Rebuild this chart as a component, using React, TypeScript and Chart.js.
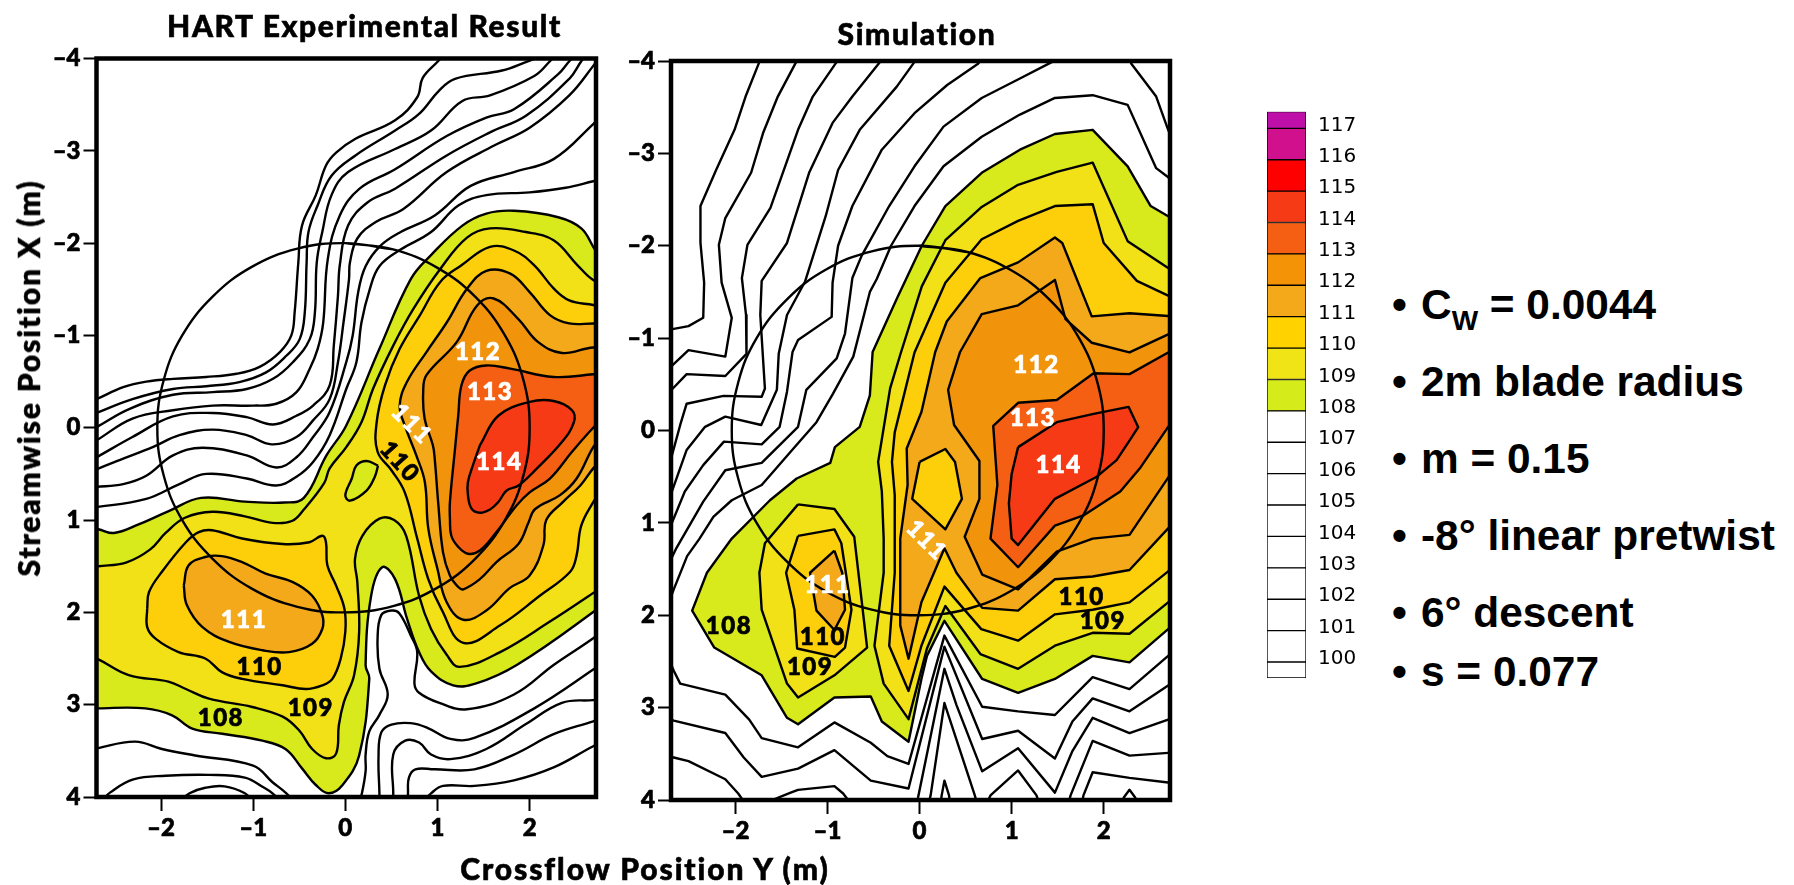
import React, { useEffect, useRef } from "react";
import { Chart, registerables } from "chart.js";
Chart.register(...registerables);

type P = [number, number];

// ---------- HART experimental panel: iso-level lines (crossflow Y, streamwise X, metres)
const expIso100: P[] = [[1.08,-4.05],[1.006,-3.97],[.84,-3.79],[.78,-3.58],[.54,-3.33],[.11,-3.13],[-.10,-2.98],[-.21,-2.84],[-.32,-2.52],[-.47,-2.19],[-.51,-1.79],[-.55,-1.25],[-.586,-1.0],[-.71,-.82],[-.93,-.66],[-1.18,-.585],[-1.51,-.55],[-1.87,-.53],[-2.16,-.50],[-2.41,-.44],[-2.70,-.31],[-2.85,-.25]];
const expIso101: P[] = [[2.22,-4.06],[1.98,-3.97],[1.70,-3.87],[1.19,-3.78],[1.015,-3.65],[.80,-3.40],[.54,-3.22],[.11,-2.95],[-.15,-2.73],[-.30,-2.41],[-.40,-2.12],[-.42,-1.79],[-.44,-1.25],[-.495,-.96],[-.64,-.78],[-.86,-.60],[-1.15,-.495],[-1.51,-.45],[-1.87,-.42],[-2.31,-.31],[-2.70,-.16],[-2.85,-.10]];
const expIso102: P[] = [[2.30,-4.06],[2.22,-3.97],[2.05,-3.81],[1.57,-3.60],[1.27,-3.54],[.93,-3.22],[.54,-3.02],[.03,-2.77],[-.15,-2.52],[-.25,-2.12],[-.31,-1.79],[-.33,-1.25],[-.386,-.96],[-.57,-.71],[-.785,-.53],[-1.07,-.42],[-1.44,-.386],[-1.87,-.357],[-2.34,-.205],[-2.70,-.007],[-2.85,.07]];
const expIso103: P[] = [[2.52,-4.06],[2.43,-3.97],[2.31,-3.83],[1.83,-3.45],[1.53,-3.36],[1.10,-3.16],[.54,-2.80],[.155,-2.59],[-.06,-2.30],[-.19,-1.83],[-.24,-1.14],[-.30,-.855],[-.386,-.64],[-.53,-.386],[-.75,-.26],[-1.0,-.24],[-1.44,-.24],[-1.87,-.19],[-2.31,-.10],[-2.70,.137],[-2.85,.22]];
const expIso104: P[] = [[2.63,-4.06],[2.56,-3.97],[2.43,-3.78],[1.96,-3.38],[1.57,-3.20],[1.10,-2.95],[.54,-2.59],[.24,-2.44],[.03,-2.19],[-.06,-1.76],[-.08,-1.43],[-.125,-.89],[-.17,-.46],[-.35,-.24],[-.53,-.13],[-.785,-.036],[-1.07,-.115],[-1.44,-.16],[-1.87,-.123],[-2.31,.10],[-2.70,.32],[-2.85,.40]];
const expIso105: P[] = [[2.82,-4.1],[2.69,-3.92],[2.43,-3.6],[2.0,-3.25],[1.62,-3.06],[1.10,-2.77],[.63,-2.37],[.33,-2.23],[.13,-2.05],[.05,-1.79],[.04,-1.61],[-.02,-1.14],[-.08,-.71],[-.17,-.31],[-.35,-.08],[-.53,.10],[-.80,.18],[-1.07,.08],[-1.44,.02],[-1.80,.08],[-2.09,.21],[-2.45,.35],[-2.70,.45],[-2.85,.52]];
const expIso106: P[] = [[2.82,-3.42],[2.69,-3.29],[2.26,-2.91],[1.83,-2.77],[1.36,-2.62],[.97,-2.30],[.6,-2.12],[.38,-1.97],[.22,-1.75],[.14,-1.47],[.08,-1.0],[.01,-.71],[-.17,-.17],[-.35,.10],[-.53,.32],[-.75,.43],[-1.07,.30],[-1.55,.217],[-1.87,.30],[-2.16,.52],[-2.41,.61],[-2.70,.64],[-2.85,.65]];
const expIso107: P[] = [[2.82,-2.70],[2.69,-2.67],[2.39,-2.60],[2.0,-2.55],[1.53,-2.52],[1.23,-2.41],[.93,-2.12],[.6,-1.93],[.37,-1.75],[.265,-1.5],[.175,-1.14],[.12,-.71],[.01,-.42],[-.17,.08],[-.35,.37],[-.53,.53],[-.75,.625],[-1.07,.55],[-1.51,.50],[-1.8,.61],[-2.16,.77],[-2.70,.86],[-2.85,.87]];
const expLowA: P[] = [[-2.85,3.52],[-2.68,3.47],[-2.28,3.40],[-1.99,3.48],[-1.63,3.55],[-1.0,3.66],[-.79,3.84],[-.64,3.96],[-.55,4.06]];
const expLowB: P[] = [[-2.65,4.05],[-2.55,3.95],[-2.30,3.81],[-1.95,3.77],[-1.48,3.76],[-1.09,3.79],[-.88,3.90],[-.79,3.96],[-.7,4.05]];
const expLowC: P[] = [[-1.8,4.05],[-1.69,3.96],[-1.52,3.90],[-1.31,3.885],[-1.09,3.96],[-1.0,4.05]];
const expRightA: P[] = [[2.85,2.15],[2.69,2.28],[2.26,2.57],[1.83,2.89],[1.32,3.05],[1.02,2.98],[.80,2.87],[.75,2.77],[.78,2.43],[.71,2.25],[.585,2.01],[.50,1.98],[.39,2.03],[.35,2.28],[.37,2.61],[.46,2.89],[.37,3.11],[.26,3.29],[.22,3.54],[.22,3.72],[.18,3.96],[.15,4.05]];
const expRightB: P[] = [[2.85,2.5],[2.69,2.62],[2.05,3.04],[1.40,3.36],[1.14,3.37],[.89,3.25],[.71,3.20],[.50,3.215],[.39,3.30],[.36,3.57],[.37,3.96],[.37,4.06]];
const expRightC: P[] = [[2.85,2.93],[2.69,2.95],[2.35,2.98],[1.96,3.21],[1.53,3.48],[1.14,3.59],[.93,3.54],[.80,3.41],[.65,3.39],[.52,3.54],[.52,3.96],[.52,4.06]];
const expRightD: P[] = [[2.85,3.12],[2.69,3.18],[2.26,3.32],[1.83,3.54],[1.40,3.70],[.97,3.70],[.76,3.70],[.69,3.79],[.68,3.96],[.68,4.06]];
const expRightE: P[] = [[2.85,3.38],[2.69,3.45],[2.26,3.68],[1.83,3.82],[1.40,3.88],[1.06,3.88],[.93,3.96],[.85,4.05]];

const exp108: P[] = [[2.85,-1.7],[2.69,-1.96],[2.56,-2.16],[2.31,-2.28],[1.83,-2.35],[1.53,-2.32],[1.27,-2.19],[.93,-1.87],[.71,-1.61],[.37,-.855],[.01,-.025],[-.205,.30],[-.45,.76],[-.66,.81],[-1.09,.80],[-1.565,.76],[-1.91,.90],[-2.25,1.05],[-2.51,1.14],[-2.68,1.10],[-2.85,1.08],[-2.95,2.0],[-2.85,3.05],[-2.68,3.04],[-2.17,3.04],[-1.88,3.115],[-1.66,3.26],[-1.335,3.315],[-.90,3.39],[-.65,3.48],[-.47,3.69],[-.32,3.87],[-.18,3.96],[-.03,3.87],[.15,3.55],[.26,2.72],[.22,2.57],[.28,1.82],[.40,1.51],[.54,1.64],[.67,2.07],[.80,2.43],[.93,2.64],[1.17,2.79],[1.42,2.77],[1.86,2.57],[2.69,1.996],[2.85,1.85],[2.95,0]];
const exp109: P[] = [[2.85,-1.55],[2.69,-1.60],[2.52,-1.76],[2.26,-2.03],[1.96,-2.12],[1.57,-2.16],[1.32,-2.06],[1.03,-1.72],[.74,-1.29],[.52,-.89],[.30,-.42],[.175,-.06],[.01,.21],[-.17,.44],[-.23,.60],[-.45,.885],[-.58,1.01],[-.79,1.03],[-1.09,.96],[-1.44,.91],[-1.74,.975],[-1.95,1.14],[-2.12,1.32],[-2.38,1.46],[-2.68,1.50],[-2.85,1.52],[-2.95,2.0],[-2.85,2.45],[-2.68,2.51],[-2.35,2.68],[-1.92,2.75],[-1.73,2.83],[-1.48,2.935],[-1.01,3.025],[-.68,3.13],[-.50,3.28],[-.36,3.48],[-.21,3.58],[-.10,3.53],[-.07,3.22],[-.015,2.97],[.095,2.68],[.15,2.21],[.13,1.67],[.105,1.42],[.185,1.17],[.37,.985],[.53,1.0],[.66,1.17],[.80,1.82],[.93,2.18],[1.10,2.46],[1.24,2.59],[1.68,2.43],[2.22,2.10],[2.69,1.79],[2.85,1.68],[2.95,0]];
const exp108Island: P[] = [[.355,.41],[.23,.36],[.12,.41],[.07,.55],[0,.73],[.05,.79],[.23,.68],[.32,.53],[.355,.41]];
const exp110: P[] = [[2.85,-1.3],[2.69,-1.33],[2.43,-1.38],[2.26,-1.51],[2.05,-1.76],[1.83,-1.92],[1.57,-1.96],[1.26,-1.76],[1.03,-1.58],[.81,-1.22],[.59,-.855],[.43,-.46],[.34,-.06],[.35,.26],[.50,.46],[.645,.70],[.78,1.20],[.90,1.64],[1.04,1.96],[1.28,2.33],[1.68,2.14],[2.11,1.82],[2.44,1.56],[2.51,1.38],[2.56,1.06],[2.69,.805],[2.85,.55],[2.95,-.5]];
const exp110Low: P[] = [[-2.15,1.96],[-2.13,1.78],[-1.99,1.56],[-1.73,1.24],[-1.59,1.13],[-1.445,1.11],[-1.12,1.20],[-.68,1.26],[-.39,1.24],[-.25,1.17],[-.21,1.24],[-.195,1.49],[-.10,1.71],[-.01,1.96],[0,2.21],[-.05,2.50],[-.14,2.72],[-.25,2.79],[-.43,2.83],[-.68,2.79],[-1.12,2.72],[-1.335,2.65],[-1.52,2.50],[-1.81,2.43],[-2.06,2.285],[-2.15,2.16],[-2.15,1.96]];
const exp111: P[] = [[2.85,-1.13],[2.69,-1.13],[2.43,-1.13],[2.22,-1.22],[2.0,-1.47],[1.79,-1.67],[1.53,-1.70],[1.32,-1.505],[1.10,-1.14],[.88,-.82],[.665,-.49],[.59,-.24],[.645,-.025],[.77,.30],[.863,.59],[.90,1.09],[1.0,1.53],[1.10,1.89],[1.28,2.08],[1.53,1.98],[1.78,1.74],[2.0,1.60],[2.15,1.27],[2.18,1.0],[2.36,.805],[2.55,.625],[2.69,.44],[2.85,.27],[2.95,-.5]];
const exp111Low: P[] = [[-1.753,1.71],[-1.70,1.49],[-1.52,1.40],[-1.34,1.39],[-1.12,1.455],[-.865,1.58],[-.575,1.67],[-.36,1.82],[-.25,2.03],[-.25,2.18],[-.36,2.34],[-.61,2.43],[-.90,2.41],[-1.26,2.32],[-1.55,2.16],[-1.72,1.92],[-1.753,1.71]];
const exp112: P[] = [[2.85,-.84],[2.69,-.87],[2.35,-.81],[2.09,-.93],[1.875,-1.18],[1.61,-1.40],[1.43,-1.325],[1.21,-.93],[.88,-.57],[.845,-.39],[.86,-.10],[.95,.19],[.97,.336],[1.01,.84],[1.06,1.35],[1.135,1.60],[1.225,1.725],[1.28,1.75],[1.46,1.64],[1.64,1.455],[1.88,1.256],[1.99,1.02],[2.06,.88],[2.33,.73],[2.51,.55],[2.69,.21],[2.85,0],[2.95,-.4]];
const exp113: P[] = [[2.85,-.6],[2.69,-.58],[2.26,-.55],[1.79,-.64],[1.53,-.675],[1.35,-.62],[1.26,-.46],[1.225,-.13],[1.19,.23],[1.135,.805],[1.135,.985],[1.15,1.17],[1.225,1.29],[1.33,1.365],[1.46,1.33],[1.64,1.13],[1.86,.84],[2.0,.70],[2.22,.55],[2.46,.26],[2.69,0],[2.85,-.15],[2.95,-.4]];
const exp114: P[] = [[1.46,.19],[1.66,-.13],[2.0,-.28],[2.26,-.29],[2.46,-.19],[2.48,-.06],[2.35,.155],[2.04,.48],[1.88,.625],[1.75,.68],[1.66,.805],[1.57,.885],[1.46,.92],[1.37,.877],[1.33,.73],[1.33,.59],[1.39,.39],[1.46,.19]];

// ---------- Simulation panel: iso-level lines
const simIso100: P[] = [[-1.70,-4.12],[-1.74,-3.99],[-1.89,-3.615],[-2.01,-3.255],[-2.21,-2.82],[-2.38,-2.43],[-2.38,-2.03],[-2.34,-1.60],[-2.35,-1.22],[-2.51,-1.13],[-2.67,-1.10],[-2.85,-1.07]];
const simIso101: P[] = [[-1.30,-4.12],[-1.34,-3.99],[-1.54,-3.615],[-1.70,-3.22],[-1.83,-2.79],[-2.11,-2.30],[-2.18,-2.01],[-2.15,-1.60],[-2.04,-1.22],[-2.11,-.80],[-2.51,-.87],[-2.68,-.71],[-2.85,-.55]];
const simIso102: P[] = [[-.84,-4.12],[-.90,-3.99],[-1.16,-3.615],[-1.32,-3.255],[-1.62,-2.41],[-1.87,-2.01],[-1.93,-1.65],[-1.885,-1.25],[-1.88,-.83],[-2.11,-.59],[-2.53,-.61],[-2.68,-.455],[-2.85,-.3]];
const simIso103: P[] = [[-.36,-4.12],[-.43,-3.99],[-.73,-3.615],[-.945,-3.33],[-1.20,-2.79],[-1.44,-2.03],[-1.715,-1.62],[-1.73,-1.25],[-1.68,-.455],[-1.715,-.365],[-2.13,-.375],[-2.53,-.29],[-2.60,-.06],[-2.69,.27],[-2.85,.7]];
const simIso104: P[] = [[.05,-4.12],[-.055,-3.99],[-.25,-3.72],[-.65,-3.255],[-.885,-2.82],[-1.02,-2.32],[-1.245,-1.61],[-1.44,-1.25],[-1.53,-.83],[-1.55,-.44],[-1.72,-.06],[-2.11,-.15],[-2.33,-.04],[-2.53,.21],[-2.69,.66],[-2.85,1.1]];
const simIso105: P[] = [[.75,-4.12],[.635,-3.97],[.30,-3.74],[-.055,-3.435],[-.41,-3.04],[-.73,-2.43],[-.885,-2.0],[-.945,-1.60],[-.955,-1.23],[-1.32,-.98],[-1.38,-.85],[-1.44,-.42],[-1.52,-.04],[-1.715,.15],[-2.125,.12],[-2.35,.375],[-2.55,.66],[-2.69,1.0],[-2.85,1.4]];
const simIso106: P[] = [[1.68,-4.12],[1.43,-3.985],[1.09,-3.81],[.675,-3.60],[.26,-3.29],[-.055,-2.86],[-.33,-2.43],[-.63,-1.89],[-.73,-1.65],[-.81,-1.05],[-.90,-.78],[-1.23,-.44],[-1.32,-.04],[-1.715,.35],[-2.11,.43],[-2.35,.77],[-2.64,1.27],[-2.85,1.7]];
const simIso106b: P[] = [[2.25,-4.12],[2.30,-3.97],[2.57,-3.615],[2.70,-3.255],[2.85,-2.9]];
const simIso107: P[] = [[2.85,-2.6],[2.69,-2.75],[2.57,-2.84],[2.26,-3.525],[1.88,-3.63],[1.47,-3.60],[1.09,-3.42],[.675,-3.18],[.26,-2.86],[-.055,-2.43],[-.31,-2.0],[-.465,-1.64],[-.54,-1.50],[-.72,-.80],[-.94,-.40],[-1.12,-.09],[-1.37,.195],[-1.715,.59],[-2.04,.755],[-2.24,.935],[-2.39,1.17],[-2.525,1.36],[-2.67,1.72],[-2.85,2.2]];
const simLowA: P[] = [[-2.8,2.3],[-2.67,2.60],[-2.60,2.74],[-2.11,2.86],[-1.85,3.13],[-1.715,3.33],[-1.32,3.43],[-.925,3.16],[-.53,3.38],[-.35,3.525],[-.12,3.61],[.27,2.22],[.68,2.99],[1.07,3.04],[1.47,3.08],[1.88,2.67],[2.28,2.80],[2.70,2.44],[2.85,2.3]];
const simLowB: P[] = [[-2.85,3.08],[-2.67,3.14],[-2.11,3.275],[-1.91,3.54],[-1.715,3.75],[-1.32,3.66],[-.925,3.46],[-.53,3.79],[-.12,3.875],[.27,2.34],[.68,3.34],[1.07,3.25],[1.47,3.55],[1.66,3.15],[1.88,2.90],[2.28,3.04],[2.70,2.76],[2.85,2.65]];
const simLowC: P[] = [[-.05,4.1],[-.016,3.97],[.27,2.58],[.40,2.97],[.68,3.69],[1.07,3.44],[1.47,3.92],[1.66,3.47],[1.88,3.11],[2.28,3.275],[2.70,3.13],[2.85,3.1]];
const simLowD: P[] = [[.08,4.1],[.12,3.95],[.27,2.95],[.60,3.95],[.64,4.1]];
const simLowE: P[] = [[.7,4.1],[.77,3.95],[1.07,3.68],[1.27,3.95],[1.32,4.1]];
const simLowF: P[] = [[1.6,4.1],[1.64,3.95],[1.88,3.36],[2.28,3.52],[2.70,3.49],[2.85,3.48]];
const simLowG: P[] = [[1.75,4.1],[1.78,3.95],[1.88,3.70],[2.28,3.76],[2.70,3.81],[2.85,3.83]];
const simLowH: P[] = [[-2.85,3.5],[-2.67,3.54],[-2.51,3.58],[-2.11,3.775],[-1.97,3.93],[-1.85,4.1]];
const simLowI: P[] = [[-1.6,4.0],[-1.40,3.92],[-1.32,3.89],[-.925,3.85],[-.83,3.93],[-.7,4.1]];
const simLowJ: P[] = [[.22,4.1],[.24,3.95],[.27,3.79],[.32,3.95],[.34,4.1]];
const simLowK: P[] = [[2.18,4.05],[2.22,3.97],[2.28,3.89],[2.34,3.97],[2.38,4.05]];

const sim108: P[] = [[2.85,-2.25],[2.70,-2.32],[2.51,-2.43],[2.26,-2.86],[1.88,-3.255],[1.47,-3.21],[1.09,-3.04],[.675,-2.79],[.28,-2.43],[.024,-2.0],[-.25,-1.42],[-.51,-.85],[-.54,-.38],[-.65,-.04],[-.92,.18],[-.97,.35],[-1.335,.52],[-1.625,.755],[-2.04,1.17],[-2.31,1.54],[-2.47,1.95],[-2.23,2.35],[-1.715,2.65],[-1.44,3.11],[-1.32,3.18],[-.925,2.89],[-.53,2.88],[-.41,3.15],[-.12,3.37],[.02,2.69],[.08,2.44],[.27,2.06],[.68,2.69],[1.07,2.84],[1.47,2.69],[1.88,2.44],[2.28,2.51],[2.70,2.15],[2.85,2.0],[2.95,0]];
const sim109: P[] = [[2.85,-1.65],[2.70,-1.76],[2.26,-2.05],[1.88,-2.90],[1.49,-2.80],[1.07,-2.66],[.675,-2.42],[.28,-2.06],[.024,-1.56],[-.21,-.82],[-.32,-.455],[-.45,.34],[-.41,.66],[-.39,1.17],[-.39,1.54],[-.49,2.33],[-.39,2.74],[-.12,3.125],[.08,2.36],[.28,1.9],[.66,2.42],[1.07,2.58],[1.47,2.33],[1.88,2.19],[2.28,2.20],[2.70,1.86],[2.85,1.7],[2.95,0]];
const sim109Low: P[] = [[-1.32,.80],[-.925,.85],[-.71,1.15],[-.57,2.35],[-.925,2.65],[-1.32,2.89],[-1.44,2.74],[-1.715,1.94],[-1.74,1.54],[-1.68,1.22],[-1.32,.80]];
const sim110: P[] = [[2.85,-1.38],[2.70,-1.46],[2.36,-1.62],[2.0,-2.03],[1.88,-2.45],[1.47,-2.43],[1.07,-2.27],[.675,-2.07],[.28,-1.60],[-.055,-.845],[-.27,.02],[-.30,.34],[-.27,.70],[-.27,1.54],[-.33,2.33],[-.12,2.82],[.02,2.33],[.27,1.69],[.67,2.15],[1.07,2.275],[1.47,1.99],[1.88,1.94],[2.28,1.86],[2.70,1.525],[2.85,1.35],[2.95,0]];
const sim110Low: P[] = [[-1.32,1.14],[-.925,1.07],[-.85,1.22],[-.74,1.94],[-.81,2.35],[-.92,2.45],[-1.33,2.36],[-1.36,1.94],[-1.45,1.54],[-1.32,1.14]];
const sim111: P[] = [[2.85,-1.24],[2.70,-1.24],[2.28,-1.27],[1.87,-1.235],[1.55,-2.03],[1.47,-2.09],[1.07,-1.82],[.66,-1.65],[.295,-1.18],[.17,-.85],[.02,-.20],[-.14,.195],[-.13,.59],[-.21,1.17],[-.21,2.11],[-.12,2.47],[.02,1.86],[.27,1.275],[.40,1.54],[.68,1.92],[1.07,1.95],[1.47,1.61],[1.88,1.58],[2.28,1.51],[2.70,1.06],[2.85,.9],[2.95,0]];
const sim110Hole: P[] = [[0,.34],[.28,.20],[.385,.34],[.46,.74],[.28,1.07],[-.08,.74],[0,.34]];
const sim111Low: P[] = [[-.925,1.30],[-.84,1.54],[-.81,1.94],[-.925,2.16],[-1.12,1.95],[-1.19,1.54],[-.925,1.30]];
const sim112: P[] = [[2.85,-1.1],[2.70,-1.04],[2.28,-.845],[1.87,-.95],[1.585,-1.205],[1.47,-1.63],[1.07,-1.355],[.675,-1.26],[.44,-.85],[.31,-.44],[.375,-.06],[.65,.33],[.65,.74],[.49,1.15],[.68,1.56],[1.07,1.72],[1.49,1.31],[1.88,1.17],[2.28,1.13],[2.70,.51],[2.85,.3],[2.95,0]];
const sim113: P[] = [[2.85,-.95],[2.70,-.845],[2.28,-.61],[1.89,-.62],[1.49,-.33],[1.07,-.30],[.80,-.05],[.845,.59],[.77,1.17],[1.07,1.48],[1.47,1.03],[1.78,.92],[2.18,.66],[2.4,.4],[2.70,-.04],[2.85,-.2],[2.95,-.5]];
const sim114: P[] = [[1.07,.18],[1.49,-.09],[1.89,-.18],[2.27,-.256],[2.375,-.036],[2.28,.11],[2.14,.32],[1.925,.50],[1.47,.74],[1.07,1.24],[1.0,1.17],[.97,.79],[1.0,.47],[1.07,.18]];

// Rotor disc outline (about 2 m radius), read at 15 degree steps
const rotorDisc: P[] = [[0,-2],[.518,-1.932],[1,-1.732],[1.414,-1.414],[1.732,-1],[1.932,-.518],[2,0],[1.932,.518],[1.732,1],[1.414,1.414],[1,1.732],[.518,1.932],[0,2],[-.52,1.94],[-1.02,1.74],[-1.44,1.42],[-1.77,1],[-1.97,.52],[-2.04,0],[-1.97,-.52],[-1.77,-1],[-1.44,-1.42],[-1.02,-1.74],[-.52,-1.94],[0,-2],[.518,-1.932]];

// ---------- Colour key
const keyLevels = [100,101,102,103,104,105,106,107,108,109,110,111,112,113,114,115,116,117];
const keyColors = ["#ffffff","#ffffff","#ffffff","#ffffff","#ffffff","#ffffff","#ffffff","#ffffff","#d6ec1a","#f1e416","#ffd200","#f3a91a","#f49306","#f55f14","#f63a15","#ff0000","#d0108c","#be10a8"];
const keyLowEdge = 99.49;
const keyHighEdge = 117.53;

const levelColor: Record<number, string> = { 108: "#d8ea1c", 109: "#f2e116", 110: "#fccf0a", 111: "#f3a91a", 112: "#f2930c", 113: "#f55f14", 114: "#f53a15" };

const xTicks = [-2,-1,0,1,2];
const yTicks = [-4,-3,-2,-1,0,1,2,3,4];

type Lab = [number, number, string, string, number];
const expLabels: Lab[] = [[1.44,-.82,"112","#fff",0],[1.57,-.385,"113","#fff",0],[1.67,.376,"114","#fff",0],[.72,-.04,"111","#fff",45],[.59,.37,"110","#000",48],[-1.10,2.09,"111","#fff",0],[-.93,2.60,"110","#000",0],[-.375,3.04,"109","#000",0],[-1.35,3.15,"108","#000",0]];
const simLabels: Lab[] = [[1.27,-.71,"112","#fff",0],[1.23,-.137,"113","#fff",0],[1.51,.375,"114","#fff",0],[.075,1.19,"111","#fff",45],[-1.0,1.67,"111","#fff",0],[-1.05,2.24,"110","#000",0],[-1.19,2.56,"109","#000",0],[-2.07,2.12,"108","#000",0],[1.76,1.81,"110","#000",0],[1.99,2.07,"109","#000",0]];

const bullets = ["2m blade radius","m = 0.15","-8\u00b0 linear pretwist","6\u00b0 descent","s = 0.077"];
const bulletBaselines = [396,473,550,627.5,686.5];

const HEAD = "Lato, 'Open Sans', sans-serif";

const toXY = (p: P[]) => p.map(([x, y]) => ({ x, y }));

function iso(p: P[], tension: number) {
  return { data: toXY(p), showLine: true, borderColor: "#000", borderWidth: 2.4, pointRadius: 0, tension, fill: false, capBezierPoints: false, clip: 0, borderJoinStyle: "round" };
}
function band(p: P[], level: number, tension: number) {
  return { ...iso(p, tension), fill: "shape", backgroundColor: levelColor[level] };
}

function makePanel(canvas: HTMLCanvasElement, painter: any[], labels: Lab[], axisW: number, padRight: number, padTop: number, padBottom: number) {
  const framePlugin = {
    id: "frameAndLabels",
    afterDatasetsDraw(chart: any) {
      const { ctx, chartArea: a, scales } = chart;
      ctx.save();
      ctx.font = `900 24px ${HEAD}`;
      ctx.textAlign = "center";
      ctx.textBaseline = "middle";
      for (const [x, y, text, color, rot] of labels) {
        ctx.save();
        ctx.translate(scales.x.getPixelForValue(x), scales.y.getPixelForValue(y));
        ctx.rotate((rot * Math.PI) / 180);
        ctx.fillStyle = color;
        ctx.strokeStyle = color;
        ctx.lineWidth = 0.7;
        (ctx as any).letterSpacing = "1.5px";
        ctx.fillText(text, 0, 0);
        ctx.strokeText(text, 0, 0);
        ctx.restore();
      }
      ctx.lineWidth = 4.5;
      ctx.strokeStyle = "#000";
      ctx.strokeRect(a.left, a.top, a.right - a.left, a.bottom - a.top);
      ctx.restore();
    },
  };
  const minus = (v: number) => (v < 0 ? "\u2013" + Math.abs(v) : String(v));
  const tickFont = { family: HEAD, weight: "900", size: 24 };
  return new Chart(canvas, {
    type: "scatter",
    data: { datasets: [...painter].reverse() },
    plugins: [framePlugin],
    options: {
      animation: false,
      responsive: false,
      layout: { padding: { left: 0, right: padRight, top: padTop, bottom: padBottom } },
      plugins: { legend: { display: false }, title: { display: false }, tooltip: { enabled: false }, filler: { drawTime: "beforeDatasetDraw", propagate: false } },
      scales: {
        x: {
          type: "linear", min: -2.70, max: 2.72,
          afterBuildTicks: (s: any) => { s.ticks = xTicks.map((value) => ({ value })); },
          afterFit: (s: any) => { s.height = 40; },
          grid: { drawOnChartArea: false, tickLength: 14, tickWidth: 2, tickColor: "#000" },
          border: { display: false },
          ticks: { color: "#000", font: tickFont, padding: 3, maxRotation: 0, textStrokeWidth: 0.7, textStrokeColor: "#000", callback: (v: any) => minus(Number(v)) },
        },
        y: {
          type: "linear", reverse: true, min: -4, max: 4,
          afterBuildTicks: (s: any) => { s.ticks = yTicks.map((value) => ({ value })); },
          afterFit: (s: any) => { s.width = axisW; },
          grid: { drawOnChartArea: false, tickLength: 13, tickWidth: 2, tickColor: "#000" },
          border: { display: false },
          ticks: { color: "#000", font: tickFont, padding: 3, textStrokeWidth: 0.7, textStrokeColor: "#000", callback: (v: any) => minus(Number(v)) },
        },
      },
    } as any,
  } as any);
}

function makeKey(canvas: HTMLCanvasElement) {
  const shift = 3 / 31.4;
  const datasets = keyLevels.map((lv, i) => ({
    label: String(lv),
    data: [[lv, i === keyLevels.length - 1 ? keyHighEdge : keyLevels[i + 1]]],
    backgroundColor: keyColors[i],
    borderColor: "#000",
    borderWidth: 1,
    borderSkipped: false,
    barPercentage: 1,
    categoryPercentage: 1,
    grouped: false,
    yAxisID: "y",
  }));
  datasets.unshift({ label: "base", data: [[keyLowEdge, 100]], backgroundColor: "#ffffff", borderColor: "#000", borderWidth: 1, borderSkipped: false, barPercentage: 1, categoryPercentage: 1, grouped: false, yAxisID: "y" } as any);
  return new Chart(canvas, {
    type: "bar",
    data: { labels: ["key"], datasets },
    options: {
      animation: false,
      responsive: false,
      layout: { padding: { left: 7, right: 0, top: 51.7, bottom: 52 } },
      plugins: { legend: { display: false }, tooltip: { enabled: false } },
      scales: {
        x: { display: false },
        y: { display: false, min: keyLowEdge, max: keyHighEdge },
        y2: {
          position: "right", min: keyLowEdge - shift, max: keyHighEdge - shift,
          afterBuildTicks: (s: any) => { s.ticks = keyLevels.map((value) => ({ value })); },
          afterFit: (s: any) => { s.width = 84; },
          grid: { display: false, drawTicks: false, tickLength: 0 },
          border: { display: false },
          ticks: { color: "#000", padding: 12, font: { family: "'DejaVu Sans'", size: 20 } },
        },
      },
    } as any,
  } as any);
}

const abs = (left: number, top: number, width: number, height: number): React.CSSProperties => ({ position: "absolute", left, top, width, height });

export default function App() {
  const a = useRef<HTMLCanvasElement>(null);
  const b = useRef<HTMLCanvasElement>(null);
  const c = useRef<HTMLCanvasElement>(null);
  useEffect(() => {
    const T = 0.4;
    const expSet = [
      ...[expIso100,expIso101,expIso102,expIso103,expIso104,expIso105,expIso106,expIso107,expLowA,expLowB,expLowC,expRightA,expRightB,expRightC,expRightD,expRightE].map((p) => iso(p, T)),
      band(exp108,108,T), band(exp109,109,T), band(exp108Island,108,T), band(exp110,110,T), band(exp110Low,110,T), band(exp111,111,T), band(exp111Low,111,T), band(exp112,112,T), band(exp113,113,T), band(exp114,114,T),
      iso(rotorDisc, T),
    ];
    const simSet = [
      ...[simIso100,simIso101,simIso102,simIso103,simIso104,simIso105,simIso106,simIso106b,simIso107,simLowA,simLowB,simLowC,simLowD,simLowE,simLowF,simLowG,simLowH,simLowI,simLowJ,simLowK].map((p) => iso(p, 0)),
      band(sim108,108,0), band(sim109,109,0), band(sim109Low,109,0), band(sim110,110,0), band(sim110Low,110,0), band(sim111,111,0), band(sim110Hole,110,0), band(sim111Low,111,0), band(sim112,112,0), band(sim113,113,0), band(sim114,114,0),
      iso(rotorDisc, T),
    ];
    const c1 = makePanel(a.current!, expSet, expLabels, 96.5, 4, 58.5, 48);
    const c2 = makePanel(b.current!, simSet, simLabels, 71, 10, 61, 45);
    const c3 = makeKey(c.current!);
    return () => { c1.destroy(); c2.destroy(); c3.destroy(); };
  }, []);

  const head: React.CSSProperties = { position: "absolute", fontFamily: HEAD, fontWeight: 900, fontSize: 30, lineHeight: "34px", whiteSpace: "nowrap", color: "#000", letterSpacing: "1.6px", WebkitTextStroke: "0.6px #000", transform: "translateX(-50%)" };
  const bullet: React.CSSProperties = { position: "absolute", left: 1392, fontFamily: "'Liberation Sans'", fontWeight: 700, fontSize: 42.4, lineHeight: "48px", whiteSpace: "nowrap", color: "#000" };
  return (
    <div style={{ position: "absolute", left: 0, top: 0, width: 1794, height: 885, overflow: "hidden", background: "#fff" }}>
      <canvas ref={a} width={600} height={885} style={abs(0, 0, 600, 885)} />
      <canvas ref={b} width={580} height={885} style={abs(600, 0, 580, 885)} />
      <canvas ref={c} width={130} height={670} style={abs(1260, 60, 130, 670)} />
      <div style={{ ...head, left: 364.5, top: 8 }}>HART Experimental Result</div>
      <div style={{ ...head, left: 917, top: 16 }}>Simulation</div>
      <div style={{ ...head, left: 645, top: 851, letterSpacing: "1.9px" }}>Crossflow Position Y (m)</div>
      <div style={{ ...head, left: 28, top: 378, letterSpacing: "1.9px", transform: "translate(-50%,-50%) rotate(-90deg)" }}>Streamwise Position X (m)</div>
      <div style={{ ...bullet, top: 319 - 38.5 }}>
        <span style={{ display: "inline-block", width: 29 }}>•</span>C<span style={{ fontSize: 28, position: "relative", top: 11, lineHeight: 0 }}>W</span> = 0.0044
      </div>
      {bullets.map((t, i) => (
        <div key={t} style={{ ...bullet, top: bulletBaselines[i] - 38.5 }}>
          <span style={{ display: "inline-block", width: 29 }}>•</span>{t}
        </div>
      ))}
    </div>
  );
}
